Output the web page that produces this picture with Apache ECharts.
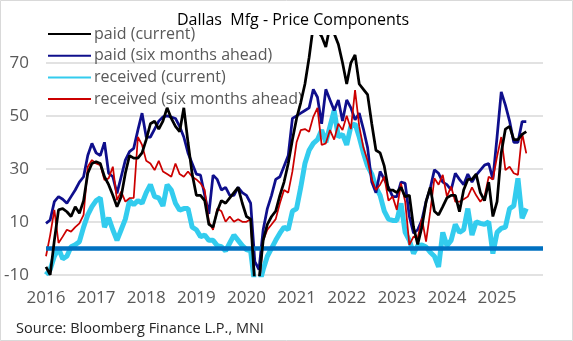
<!DOCTYPE html>
<html>
<head>
<meta charset="utf-8">
<script src="https://cdn.jsdelivr.net/npm/echarts@6/dist/echarts.min.js"></script>
<style>
html,body{margin:0;padding:0;background:#fff;}
#chart{width:573px;height:341px;}
</style>
</head>
<body>
<div id="chart"></div>
<script>
// Monthly categories Jan 2016 .. Dec 2025
const months = [];
for (let y = 2016; y <= 2025; y++) for (let m = 1; m <= 12; m++) months.push(y + '-' + (m < 10 ? '0' + m : m));
const yearTicks = ['2016','2017','2018','2019','2020','2021','2022','2023','2024','2025'];
const yTicks = [-10, 10, 30, 50, 70];

const seriesNames = ['paid (current)', 'paid (six months ahead)', 'received (current)', 'received (six months ahead)'];

// Jan 2016 .. Aug 2025
const paidCurrent = [
 -7,-10,3,14.5,15,13.8,12,15.7,13.2,18,28.3,32,
 32.7,32,27,24,20,15.7,19.5,28.3,35,34,34,36,
 41,47,48,45,48,53,49,46,44,53,40,28,
 20,20,18,9,8,14,18,17,19,21,23,17,
 12,11,-14,-12,3,9,12,14,20,25,32,41,
 49,55,62,72,84,82,80,76,84,81,77,70,
 62,70,73,62,60,58,47,37,36,31,22,22,
 21,23,19.5,20,8,1.5,8,17.6,23,14,12.6,15.7,
 19,20,20,13.8,22,26,26,28,21,18,25,12,
 17.6,36,45,46,41,41,43,44
];
const paidSixMonths = [
 9.4,10.7,17.6,19.5,18.5,17,19.5,22,25,27,35,39.6,
 36,35,40,28.3,27,20.7,27,33.3,36.5,37.7,44.6,51,
 42,42,45,48,49.6,50,49.5,49,46,42,36,32,
 28,27.6,20,13,27.6,26,22,23,20,20,23,21,
 20,17,-5,-8,7,15,20,26,27,31,35,49,
 50,51,52,53,60,57,47,60,56,52,56,48,
 56,53,48.5,51,45,38,25,21,29,26,23,19.5,
 19.5,25,24.5,12,5.7,7,10.7,17.6,22.6,29.6,28.3,25,
 24,22,28.3,26,24,28,25,27.6,29.5,31.4,32,26,
 42,59,54,48,40,40,47.8,47.8
];
const receivedCurrent = [
 -10,-8,-3,0,-4,-3,0.6,1.3,2.5,8,12.6,15.7,
 18,19,8,11.5,7,3,7,11,18,16.4,18,17,
 21,24,19.5,19,16,24,22,17,14.4,15,15,8,
 7,4.4,5,3,3,1,0.6,-1,2,5,3,1,
 -0.5,-1,-14,-14,-8,-3,0,3,5.7,8,7,14,
 15,23,32,37,39.6,41,44.6,40,46,52,42,43,
 39,46,47,42,36,31,28,23,20,14,11,10.5,
 10.5,17,6,3,-2,1,1.3,0.5,-1.5,-3,-7,6,
 1,3,9,6,7,15,5,10,9.4,9,10,-2,
 6,7.5,8,15,16,26.4,11.3,15
];
const receivedSixMonths = [
 -3,5,14.5,2,4.4,7,6.3,8,9.4,12.6,30.8,33.3,
 32,31.4,25.8,26.4,30.8,18.2,21.4,17.6,18.9,19,42,39,
 33,32,29.5,33,29,28,27,32,28,27,29,27,
 26,24.5,22,10,7,15,14,10,12,10,11,10,
 10,11,-15,-15,3,7,9,11,17,22,21,29,
 40,44.6,45,44,49.6,53,39,39.6,44.6,41,47,44.6,
 50,45,59.7,46,38,33,26,22,24,27,18,19.5,
 14.5,24.5,17.6,1.3,4.4,3.8,11.3,2.5,13.8,26.4,24,27.7,
 19.5,23.3,17.6,17.6,18.5,19.5,23,20,17.6,19.5,27,26,
 34.6,42,29.5,30.8,28.3,27.7,43.4,35.8
];

const chart = echarts.init(document.getElementById('chart'), null, {renderer: 'canvas'});
const gray = '#595959';
const fontFam = '"Open Sans", "Liberation Sans", sans-serif';

function lineSeries(name, data, color, width, z) {
  return {
    name: name, type: 'line', data: data, symbol: 'none', showSymbol: false,
    lineStyle: {color: color, width: width}, itemStyle: {color: color},
    z: z, clip: true, animation: false, connectNulls: false
  };
}

const option = {
  backgroundColor: '#ffffff',
  animation: false,
  title: {
    text: 'Dallas  Mfg - Price Components',
    left: 288, top: 7, textAlign: 'center',
    textStyle: {fontFamily: fontFam, fontSize: 16, fontWeight: 'normal', color: '#000'}
  },
  legend: {
    data: seriesNames,
    orient: 'vertical', left: 47, top: 26, padding: 0,
    itemWidth: 43, itemHeight: 14, itemGap: 5.7,
    itemStyle: {opacity: 0},
    textStyle: {fontFamily: fontFam, fontSize: 16, lineHeight: 16, color: gray, padding: [0,0,0,-2]},
    selectedMode: false
  },
  grid: {left: 46, right: 30, top: 36.3, bottom: 66.2, containLabel: false},
  xAxis: {
    type: 'category', data: months, boundaryGap: false,
    axisLine: {show: false}, axisTick: {show: false},
    axisLabel: {
      interval: function (i) { return i % 12 === 0; },
      formatter: function (v) { return yearTicks[Math.floor(months.indexOf(v) / 12)] || v.slice(0, 4); },
      fontFamily: fontFam, fontSize: 17, color: gray, margin: 15
    },
    splitLine: {show: false}
  },
  yAxis: {
    type: 'value', min: -10, max: 80, interval: 20,
    axisLine: {show: false}, axisTick: {show: false},
    axisLabel: {
      showMaxLabel: false,
      formatter: function (v) { return yTicks.indexOf(v) >= 0 ? String(v) : ''; },
      fontFamily: fontFam, fontSize: 17, color: gray, margin: 17
    },
    splitLine: {lineStyle: {color: ['#d9d9d9','#d9d9d9','#d9d9d9','#d9d9d9','#d9d9d9','rgba(0,0,0,0)'], width: 1.5}}
  },
  series: [
    {
      name: 'zero', type: 'line', data: [], z: 1, silent: true,
      markLine: {
        silent: true, symbol: ['none','none'], label: {show: false},
        lineStyle: {color: '#0070c0', width: 4.5, type: 'solid'},
        data: [{yAxis: 0}], animation: false
      }
    },
    lineSeries(seriesNames[2], receivedCurrent, '#33ccee', 5, 2),
    lineSeries(seriesNames[1], paidSixMonths, '#0f0f8c', 2.75, 3),
    lineSeries(seriesNames[3], receivedSixMonths, '#cc0000', 1.75, 4),
    lineSeries(seriesNames[0], paidCurrent, '#000000', 2.75, 5)
  ],
  graphic: [
    {type: 'rect', shape: {x: 0.5, y: 0.5, width: 572, height: 340}, style: {fill: 'none', stroke: '#d9d9d9', lineWidth: 1}, silent: true, z: 100},
    {type: 'text', left: 16, top: 321, style: {text: 'Source: Bloomberg Finance L.P., MNI', fontFamily: fontFam, fontSize: 14.5, fill: '#262626'}}
  ]
};
chart.setOption(option);
</script>
</body>
</html>
